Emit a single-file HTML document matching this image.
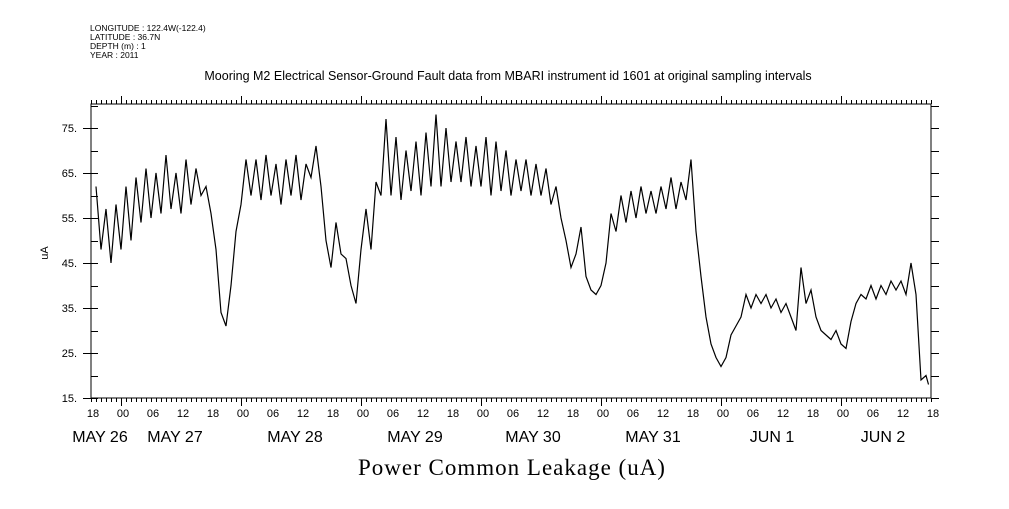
<!DOCTYPE html>
<html><head><meta charset="utf-8"><style>
body{margin:0;background:#fff;}
svg text{font-family:"Liberation Sans",sans-serif;fill:#000;}
</style></head><body>
<svg id="chart" width="1009" height="504" xmlns="http://www.w3.org/2000/svg">
<g font-size="8.5">
<text x="90" y="31">LONGITUDE : 122.4W(-122.4)</text>
<text x="90" y="40">LATITUDE : 36.7N</text>
<text x="90" y="49">DEPTH (m) : 1</text>
<text x="90" y="58">YEAR : 2011</text>
</g>
<text x="508" y="80" font-size="12.5" text-anchor="middle">Mooring M2 Electrical Sensor-Ground Fault data from MBARI instrument id 1601 at original sampling intervals</text>
<text transform="translate(48,253) rotate(-90)" font-size="11" text-anchor="middle">uA</text>
<text x="512" y="475" font-size="23" text-anchor="middle" style="font-family:'Liberation Serif',serif;letter-spacing:1px">Power Common Leakage (uA)</text>
<g id="axes"></g>
<g id="marks"></g>
</svg>
<script>
const hours=[1,2,3,4,5,6,7,8,9,10,11,12,13,14,15,16,17,18,19,20,21,22,23,24,25,26,27,28,29,30,31,32,33,34,35,36,37,38,39,40,41,42,43,44,45,46,47,48,49,50,51,52,53,54,55,56,57,58,59,60,61,62,63,64,65,66,67,68,69,70,71,72,73,74,75,76,77,78,79,80,81,82,83,84,85,86,87,88,89,90,91,92,93,94,95,96,97,98,99,100,101,102,103,104,105,106,107,108,109,110,111,112,113,114,115,116,117,118,119,120,121,122,123,124,125,126,127,128,129,130,131,132,133,134,135,136,137,138,139,140,141,142,143,144,145,146,147,148,149,150,151,152,153,154,155,156,157,158,159,160,161,162,163,164,165,166,167,167.5];
const values=[62,48,57,45,58,48,62,50,64,54,66,55,65,56,69,57,65,56,68,58,66,60,62,56,48,34,31,40,52,58,68,60,68,59,69,60,67,58,68,60,69,59,67,64,71,62,50,44,54,47,46,40,36,48,57,48,63,60,77,60,73,59,70,61,72,60,74,62,78,62,75,63,72,63,73,62,71,62,73,60,72,61,70,60,68,61,68,60,67,60,66,58,62,55,50,44,47,53,42,39,38,40,45,56,52,60,54,61,55,62,56,61,56,62,57,64,57,63,59,68,52,42,33,27,24,22,24,29,31,33,38,35,38,36,38,35,37,34,36,33,30,44,36,39,33,30,29,28,30,27,26,32,36,38,37,40,37,40,38,41,39,41,38,45,38,19,20,18];
const yTicks=[15,25,35,45,55,65,75];
const hourLabels=["18","00","06","12"];
const dateLabels=["MAY 26","MAY 27","MAY 28","MAY 29","MAY 30","MAY 31","JUN  1","JUN  2"];
const dateHours=[1.8,16.8,40.8,64.8,88.4,112.4,136.2,158.4];

const NS="http://www.w3.org/2000/svg";
const L=91,R=931,T=104,B=398;
const xS=h=>L+h*(R-L)/168;
const yS=v=>B-(v-15)*4.5;
const axes=document.getElementById('axes'),marks=document.getElementById('marks');
function mk(tag,attrs,parent){const e=document.createElementNS(NS,tag);for(const k in attrs)e.setAttribute(k,attrs[k]);parent.appendChild(e);return e;}
const frame=mk('rect',{x:L,y:T,width:R-L,height:B-T,fill:'none',stroke:'#000','stroke-width':1,'shape-rendering':'crispEdges'},axes);


let p='';
for(let h=0;h<=168;h++){const x=Math.round(xS(h))+0.5;const big=((h+18)%24===0);const len=big?8:4;
p+=`M${x},${B}V${B+len}M${x},${T}V${T-len}`;}
for(let v=15;v<=80;v+=5){const y=Math.round(yS(v))+0.5;
p+=`M${L},${y}H${L+7}M${R},${y}H${R+8}`;
if((v-15)%10===0)p+=`M${L},${y}H${L-8}`;}
const tk=mk('path',{d:p,stroke:'#000','stroke-width':1,fill:'none','shape-rendering':'crispEdges'},axes);


yTicks.forEach(v=>{const t=mk('text',{x:L-14,y:yS(v)+4,'font-size':11,'text-anchor':'end'},axes);t.textContent=v+'.';

});
for(let h=0;h<=168;h+=6){const t=mk('text',{x:xS(h)+2,y:417,'font-size':11,'text-anchor':'middle'},axes);t.textContent=hourLabels[(h/6)%4];

}
dateLabels.forEach((d,i)=>{const t=mk('text',{x:xS(dateHours[i]),y:442,'font-size':16,'text-anchor':'middle','xml:space':'preserve'},axes);t.textContent=d;

});
const pts=hours.map((h,i)=>xS(h).toFixed(1)+','+yS(values[i]).toFixed(1)).join(' ');
const line=mk('polyline',{points:pts,fill:'none',stroke:'#000','stroke-width':1.2},marks);


</script>
</body></html>
